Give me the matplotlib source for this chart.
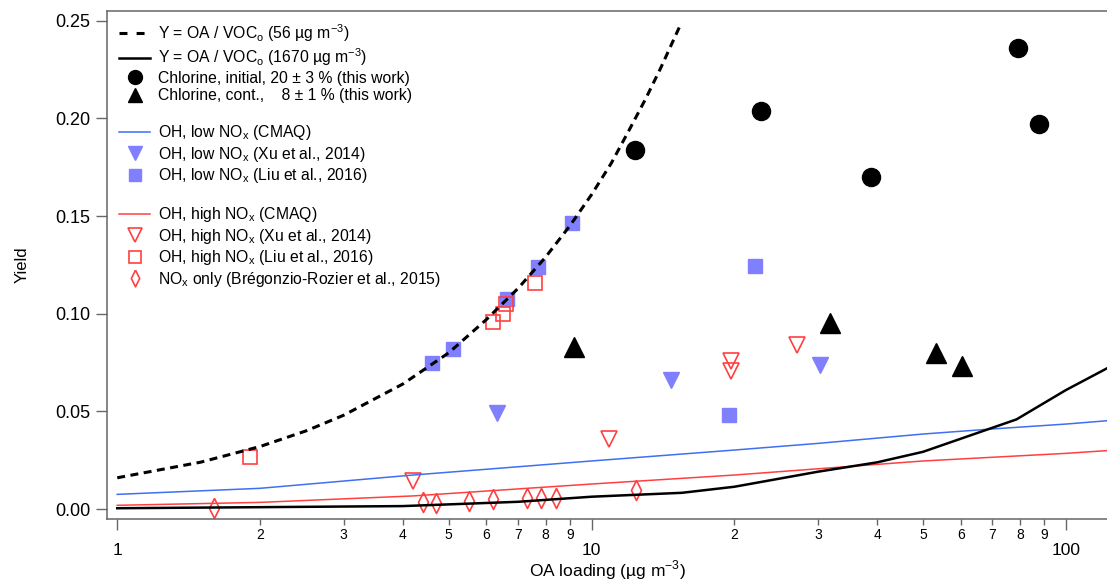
import matplotlib.pyplot as plt
from matplotlib.lines import Line2D
from matplotlib.ticker import FixedLocator, FixedFormatter

plt.rcParams['font.family'] = ['Liberation Sans', 'DejaVu Sans']
plt.rcParams['mathtext.fontset'] = 'custom'
plt.rcParams['mathtext.rm'] = 'Liberation Sans'

# chlorine experiments (this work)
oa_init = [12.35, 22.8, 38.9, 79.1, 87.8]
y_init = [0.184, 0.204, 0.170, 0.236, 0.197]
oa_cont = [9.18, 31.8, 53.2, 60.4]
y_cont = [0.083, 0.095, 0.080, 0.073]

# OH, low NOx
oa_xu_low = [6.31, 14.7, 30.3]
y_xu_low = [0.049, 0.066, 0.074]
oa_liu_low = [4.62, 5.11, 6.64, 7.71, 9.11, 19.5, 22.1]
y_liu_low = [0.0746, 0.0818, 0.1075, 0.1241, 0.1466, 0.048, 0.1246]

# OH, high NOx
oa_xu_high = [4.2, 10.9, 19.7, 19.7, 27.1]
y_xu_high = [0.0143, 0.0358, 0.0759, 0.0708, 0.084]
oa_liu_high = [1.905, 6.21, 6.52, 6.60, 7.61]
y_liu_high = [0.0268, 0.0956, 0.0997, 0.105, 0.1156]

# NOx only
oa_nox = [1.60, 4.41, 4.70, 5.51, 6.21, 7.32, 7.81, 8.41, 12.4]
y_nox = [0.0007, 0.0037, 0.0032, 0.0041, 0.005, 0.0058, 0.0058, 0.0058, 0.0097]

# Y = OA / VOCo curves
oa_56 = [1, 1.5, 2, 2.5, 3, 4, 5, 6, 7, 8, 9, 10, 11, 12, 13, 14, 15.4]
y_56 = [0.016, 0.024, 0.032, 0.040, 0.048, 0.064, 0.080, 0.097, 0.113, 0.129,
        0.145, 0.161, 0.177, 0.194, 0.210, 0.226, 0.248]
oa_1670 = [1, 4, 7, 10, 15.5, 20, 30, 40, 50, 78.7, 100, 122]
y_1670 = [0.0004, 0.0015, 0.0037, 0.0063, 0.0083, 0.0114, 0.0191, 0.0239, 0.0293, 0.0459, 0.0609, 0.072]

# CMAQ parameterisation
oa_cmaq = [1, 2, 4.2, 10, 20, 30, 50, 70, 100, 122]
y_cmaq_low = [0.0075, 0.0106, 0.0174, 0.0246, 0.0302, 0.0336, 0.0384, 0.041, 0.0435, 0.0452]
y_cmaq_high = [0.0019, 0.0034, 0.0067, 0.0128, 0.0174, 0.0206, 0.0246, 0.0265, 0.0285, 0.0299]

major_ticks = [1, 10, 100]
minor_ticks = [2, 3, 4, 5, 6, 7, 8, 9, 20, 30, 40, 50, 60, 70, 80, 90]
minor_labels = ['2', '3', '4', '5', '6', '7', '8', '9'] * 2

blue_line = '#3f6ff2'
blue_mk = '#8080ff'
red = '#ff4040'
grey = '#666666'

thin_diamond = [(0, 1), (0.5, 0), (0, -1), (-0.5, 0), (0, 1)]

fig = plt.figure(figsize=(11.07, 5.86), dpi=100)
ax = fig.add_axes([0.0967, 0.1138, 0.9033, 0.8674])

# markers
ax.plot(oa_liu_low, y_liu_low, 's', ms=10, color=blue_mk, mec=blue_mk, zorder=2)
ax.plot(oa_xu_low, y_xu_low, 'v', ms=11.5, color=blue_mk, mec=blue_mk, zorder=2)
ax.plot(oa_liu_high, y_liu_high, 's', ms=9.5, mfc='none', mec=red, mew=1.2, zorder=2)
ax.plot(oa_xu_high, y_xu_high, 'v', ms=12, mfc='none', mec=red, mew=1.2, zorder=2)
ax.plot(oa_nox, y_nox, marker=thin_diamond, ls='none', ms=14.4, mfc='none', mec=red, mew=1.2, zorder=2)
ax.plot(oa_init, y_init, 'o', ms=13, color='black', zorder=2)
ax.plot(oa_cont, y_cont, '^', ms=14, color='black', zorder=2)

# lines
ax.plot(oa_cmaq, y_cmaq_low, color=blue_line, lw=1.1, zorder=3)
ax.plot(oa_cmaq, y_cmaq_high, color=red, lw=1.1, zorder=3)
ax.plot(oa_1670, y_1670, color='black', lw=1.8, zorder=3)
ax.plot(oa_56, y_56, color='black', lw=2.2, dashes=(2.6, 1.8), zorder=3)

ax.set_xscale('log')
ax.set_xlim(0.9517, 122.1)
ax.set_ylim(-0.00527, 0.255)

ax.xaxis.set_major_locator(FixedLocator(major_ticks))
ax.xaxis.set_major_formatter(FixedFormatter([str(t) for t in major_ticks]))
ax.xaxis.set_minor_locator(FixedLocator(minor_ticks))
ax.xaxis.set_minor_formatter(FixedFormatter(minor_labels))
ax.set_yticks([0, 0.05, 0.10, 0.15, 0.20, 0.25])
ax.set_yticklabels(['0.00', '0.05', '0.10', '0.15', '0.20', '0.25'])

for side in ['left', 'bottom', 'top']:
    ax.spines[side].set_color(grey)
    ax.spines[side].set_linewidth(1.1)
ax.spines['right'].set_visible(False)

ax.tick_params(axis='y', direction='out', length=8, width=1, color=grey, labelsize=13, pad=4)
ax.tick_params(axis='x', which='major', direction='out', length=8, width=1, color=grey, labelsize=12.5, pad=9)
ax.tick_params(axis='x', which='minor', direction='out', length=4.3, width=1, color=grey, labelsize=10, pad=2)

ax.set_xlabel(r'OA loading (µg m$^{\mathregular{-3}}$)', fontsize=12.5, labelpad=0)
ax.set_ylabel('Yield', fontsize=12, labelpad=18)

# legend
voc = r'Y = OA / VOC$_{\mathregular{o}}$'
nox = r'NO$_{\mathregular{x}}$'
handles = [
    Line2D([], [], color='black', lw=2.2, dashes=(2.6, 3.0)),
    Line2D([], [], color='black', lw=1.8),
    Line2D([], [], ls='none', marker='o', ms=10, color='black'),
    Line2D([], [], ls='none', marker='^', ms=10, color='black'),
    Line2D([], [], ls='none'),
    Line2D([], [], color=blue_line, lw=1.1),
    Line2D([], [], ls='none', marker='v', ms=10, color=blue_mk),
    Line2D([], [], ls='none', marker='s', ms=8.5, color=blue_mk),
    Line2D([], [], ls='none'),
    Line2D([], [], color=red, lw=1.1),
    Line2D([], [], ls='none', marker='v', ms=10, mfc='none', mec=red, mew=1.2),
    Line2D([], [], ls='none', marker='s', ms=8.5, mfc='none', mec=red, mew=1.2),
    Line2D([], [], ls='none', marker=thin_diamond, ms=12, mfc='none', mec=red, mew=1.2),
]
labels = [
    voc + r' (56 µg m$^{\mathregular{-3}}$)',
    voc + r' (1670 µg m$^{\mathregular{-3}}$)',
    'Chlorine, initial, 20 ± 3 % (this work)',
    'Chlorine, cont.,    8 ± 1 % (this work)',
    ' ',
    'OH, low ' + nox + ' (CMAQ)',
    'OH, low ' + nox + ' (Xu et al., 2014)',
    'OH, low ' + nox + ' (Liu et al., 2016)',
    ' ',
    'OH, high ' + nox + ' (CMAQ)',
    'OH, high ' + nox + ' (Xu et al., 2014)',
    'OH, high ' + nox + ' (Liu et al., 2016)',
    nox + ' only (Brégonzio-Rozier et al., 2015)',
]
ax.legend(handles, labels, loc='upper left', bbox_to_anchor=(0.012, 0.978),
          frameon=False, fontsize=11.3, handlelength=2.0, handletextpad=0.5,
          labelspacing=0.16, borderpad=0, borderaxespad=0)

fig.savefig('out.png', dpi=100)
